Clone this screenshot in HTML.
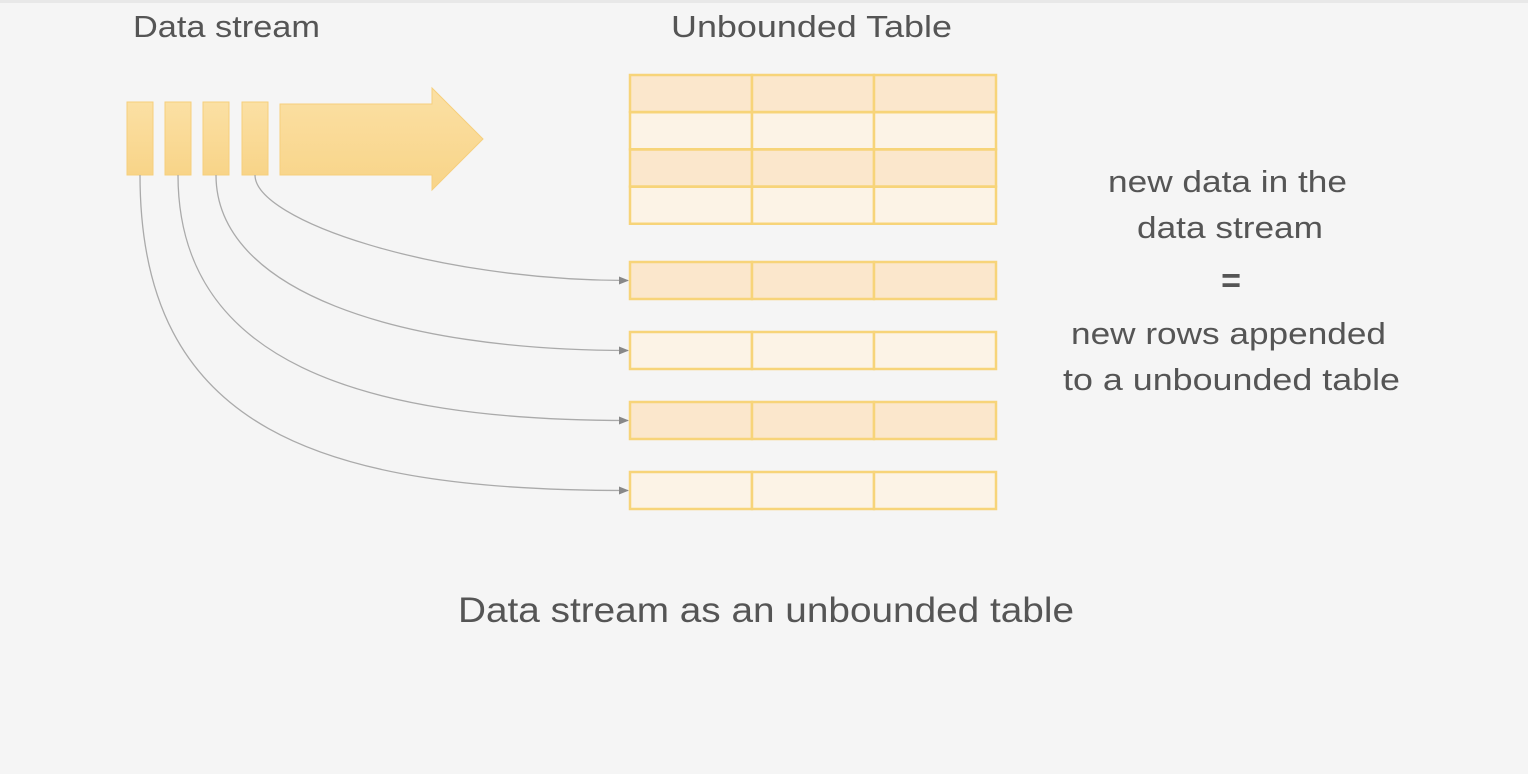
<!DOCTYPE html>
<html><head><meta charset="utf-8"><style>
html,body{margin:0;padding:0;background:#f5f5f5;}
svg{display:block;}
text{font-family:"Liberation Sans",sans-serif;fill:#555;}
</style></head><body>
<svg width="1532" height="774" viewBox="0 0 1532 774">
<defs>
<linearGradient id="g" x1="0" y1="0" x2="0" y2="1"><stop offset="0" stop-color="#fbe0a4"/><stop offset="1" stop-color="#f8d488"/></linearGradient>
<marker id="ah" markerWidth="10" markerHeight="10" refX="9" refY="5" orient="auto" markerUnits="userSpaceOnUse"><path d="M0,1 L10,5 L0,9 Z" fill="#888"/></marker>
</defs>
<rect x="0" y="0" width="1532" height="774" fill="#f5f5f5"/>
<rect x="0" y="0" width="1532" height="3" fill="#e8e8e8"/>
<rect x="1528" y="0" width="4" height="774" fill="#fff"/>
<text x="133" y="37" font-size="31" textLength="187" lengthAdjust="spacingAndGlyphs">Data stream</text>
<text x="671" y="37" font-size="31" textLength="281" lengthAdjust="spacingAndGlyphs">Unbounded Table</text>
<g id="stream"></g>
<path d="M280,104 L432,104 L432,88 L483,139 L432,190 L432,175 L280,175 Z" fill="url(#g)" stroke="#f6cf7c" stroke-width="1"/>
<g id="curves"></g>
<g id="table"></g>
<g id="newrows"></g>
<g font-size="31">
<text x="1108" y="192" textLength="239" lengthAdjust="spacingAndGlyphs">new data in the</text>
<text x="1137" y="238" textLength="186" lengthAdjust="spacingAndGlyphs">data stream</text>
<text x="1231" y="292" font-size="34" font-weight="bold" text-anchor="middle">=</text>
<text x="1071" y="344" textLength="315" lengthAdjust="spacingAndGlyphs">new rows appended</text>
<text x="1063" y="390" textLength="337" lengthAdjust="spacingAndGlyphs">to a unbounded table</text>
</g>
<text x="458" y="622" font-size="35" textLength="616" lengthAdjust="spacingAndGlyphs">Data stream as an unbounded table</text>
</svg>
<script>
const NS="http://www.w3.org/2000/svg";
const blockX=[127,165,203,242];
const tableRows=["dark","light","dark","light"];
const newRowTops=[262,332,402,472];
const newRowShades=["dark","light","dark","light"];
function mk(tag,attrs,parent){const e=document.createElementNS(NS,tag);for(const k in attrs)e.setAttribute(k,attrs[k]);parent.appendChild(e);return e;}
const fill={dark:"#fbe7cc",light:"#fcf3e6"};
const sg=document.getElementById('stream');
blockX.forEach(x=>{const r=mk('rect',{x:x,y:102,width:26,height:73,fill:"url(#g)",stroke:"#f6cf7c"},sg);

});
function row(y,shade,parent){
  [630,752,874].forEach(x=>{const r=mk('rect',{x:x,y:y,width:122,height:37,fill:fill[shade],stroke:"#f7d479","stroke-width":2.5},parent);
  
  });
}
const tg=document.getElementById('table');
tableRows.forEach((s,i)=>row(75+i*37.25,s,tg));
const ng=document.getElementById('newrows');
newRowTops.forEach((y,i)=>row(y,newRowShades[i],ng));
const cg=document.getElementById('curves');
blockX.forEach((x,i)=>{
  const sx=x+13, ty=newRowTops[3-i]+18.5;
  const p=mk('path',{d:`M${sx},175 C${sx},${ty-60} ${sx+180},${ty} 628,${ty}`,fill:"none",stroke:"#aaa","stroke-width":1.3,"marker-end":"url(#ah)"},cg);
  
  
});
</script>
</body></html>
